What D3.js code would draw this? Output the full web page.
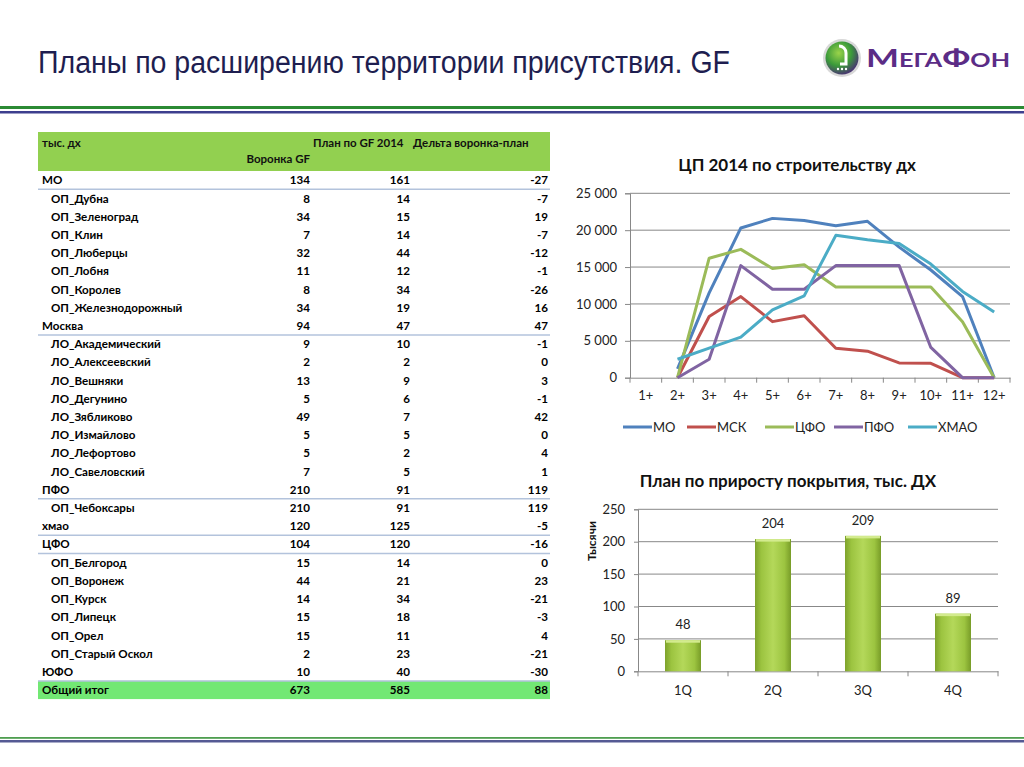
<!DOCTYPE html>
<html>
<head>
<meta charset="utf-8">
<script src="https://cdn.jsdelivr.net/npm/d3@7"></script>
<style>
    body { margin: 0; background: #fff; }
    svg text { font-family: Lato, 'Open Sans', sans-serif; }
</style>
</head>
<body>
<svg id="slide" width="1024" height="767"></svg>
<script>
// table data
const tableLabels = ['МО', 'ОП_Дубна', 'ОП_Зеленоград', 'ОП_Клин', 'ОП_Люберцы', 'ОП_Лобня', 'ОП_Королев',
    'ОП_Железнодорожный', 'Москва', 'ЛО_Академический', 'ЛО_Алексеевский', 'ЛО_Вешняки', 'ЛО_Дегунино',
    'ЛО_Зябликово', 'ЛО_Измайлово', 'ЛО_Лефортово', 'ЛО_Савеловский', 'ПФО', 'ОП_Чебоксары', 'хмао', 'ЦФО',
    'ОП_Белгород', 'ОП_Воронеж', 'ОП_Курск', 'ОП_Липецк', 'ОП_Орел', 'ОП_Старый Оскол', 'ЮФО', 'Общий итог']
const funnelGF = [134, 8, 34, 7, 32, 11, 8, 34, 94, 9, 2, 13, 5, 49, 5, 5, 7, 210, 210, 120, 104, 15, 44, 14, 15, 15, 2, 10, 673]
const planGF2014 = [161, 14, 15, 14, 44, 12, 34, 19, 47, 10, 2, 9, 6, 7, 5, 2, 5, 91, 91, 125, 120, 14, 21, 34, 18, 11, 23, 40, 585]
const deltaPlan = [-27, -7, 19, -7, -12, -1, -26, 16, 47, -1, 0, 3, -1, 42, 0, 4, 1, 119, 119, -5, -16, 0, 23, -21, -3, 4, -21, -30, 88]
const groupLabels = ['МО', 'Москва', 'ПФО', 'хмао', 'ЦФО', 'ЮФО']
const totalLabel = 'Общий итог'
const tableHeaders = ['тыс. дх', 'Воронка GF', 'План по GF 2014', 'Дельта воронка-план']

// line chart data
const lineCategories = ['1+', '2+', '3+', '4+', '5+', '6+', '7+', '8+', '9+', '10+', '11+', '12+']
const moValues = [null, 1200, 11500, 20300, 21600, 21300, 20600, 21200, 17700, 14600, 11000, 0]
const mskValues = [null, 0, 8300, 11000, 7600, 8400, 4000, 3600, 2000, 1950, 0, 0]
const cfoValues = [null, 0, 16200, 17400, 14800, 15300, 12300, 12300, 12300, 12300, 7600, 0]
const pfoValues = [null, 0, 2500, 15200, 12000, 12000, 15200, 15200, 15200, 4100, 0, 0]
const hmaoValues = [null, 2500, 4000, 5500, 9200, 11100, 19300, 18700, 18200, 15400, 11700, 8900]
const seriesNames = ['МО', 'МСК', 'ЦФО', 'ПФО', 'ХМАО']
const seriesColors = ['#4f81bd', '#c0504d', '#9bbb59', '#8064a2', '#4bacc6']
const lineTicks = [0, 5000, 10000, 15000, 20000, 25000]

// bar chart data
const barCategories = ['1Q', '2Q', '3Q', '4Q']
const barValues = [48, 204, 209, 89]
const barTicks = [0, 50, 100, 150, 200, 250]

const svg = d3.select('#slide')
svg.append('rect').attr('width', 1024).attr('height', 767).attr('fill', '#fff')

// title + logo
svg.append('text')
    .attr('x', 38).attr('y', 73)
    .attr('textLength', 692).attr('lengthAdjust', 'spacingAndGlyphs')
    .style('font-family', "'Liberation Sans Narrow', 'Arial Narrow', 'Liberation Sans', sans-serif")
    .style('font-size', '31px')
    .attr('fill', '#1e1e50')
    .text('Планы по расширению территории присутствия. GF')

const defs = svg.append('defs')
const logoGrad = defs.append('radialGradient').attr('id', 'logoGrad').attr('cx', '40%').attr('cy', '35%').attr('r', '70%')
logoGrad.append('stop').attr('offset', '0%').attr('stop-color', '#9ad34a')
logoGrad.append('stop').attr('offset', '55%').attr('stop-color', '#3b9a3a')
logoGrad.append('stop').attr('offset', '100%').attr('stop-color', '#4b2a78')

const logo = svg.append('g').attr('transform', 'translate(842,58)')
logo.append('circle').attr('r', 19).attr('fill', '#d8d8d8')
logo.append('circle').attr('r', 16.5).attr('fill', 'url(#logoGrad)')
logo.append('path')
    .attr('d', 'M-3,-12 A7,7 0 0 1 4,-5 L4,6 L-2,6')
    .attr('fill', 'none').attr('stroke', '#fff').attr('stroke-width', 3)
logo.selectAll('circle.dot').data([-4, 0, 4]).enter().append('circle')
    .attr('class', 'dot').attr('cx', d => d).attr('cy', 11).attr('r', 1.2).attr('fill', '#fff')

svg.append('text')
    .attr('x', 866).attr('y', 67)
    .attr('textLength', 144).attr('lengthAdjust', 'spacingAndGlyphs')
    .style('font-size', '25px').style('font-weight', 'bold').style('font-variant', 'small-caps')
    .attr('fill', '#5b2c86')
    .text('МегаФон')

// decorative rules
svg.append('rect').attr('x', 0).attr('y', 106).attr('width', 1024).attr('height', 3).attr('fill', '#2b8a34')
svg.append('rect').attr('x', 0).attr('y', 111).attr('width', 1024).attr('height', 2.5).attr('fill', '#3d3f8e')
svg.append('rect').attr('x', 0).attr('y', 737).attr('width', 1024).attr('height', 1.8).attr('fill', '#4f9e50')
svg.append('rect').attr('x', 0).attr('y', 740).attr('width', 1024).attr('height', 2.5).attr('fill', '#555a94')

// table
const tableLeft = 38
const tableRight = 550
const colRight = [310, 410, 548]

const table = svg.append('g').attr('id', 'table')
table.append('rect')
    .attr('x', tableLeft).attr('y', 132).attr('width', tableRight - tableLeft).attr('height', 39)
    .attr('fill', '#92d050')

const headerText = (x, y, anchor, t) => table.append('text')
    .attr('x', x).attr('y', y).attr('text-anchor', anchor)
    .style('font-size', '11.5px').style('font-weight', 'bold').attr('fill', '#111')
    .text(t)
headerText(42, 147, 'start', tableHeaders[0])
headerText(colRight[0], 163, 'end', tableHeaders[1])
headerText(313, 147, 'start', tableHeaders[2])
headerText(413, 147, 'start', tableHeaders[3])

const rowY = d3.scaleBand()
    .domain(d3.range(tableLabels.length))
    .range([171, 171 + 18.21 * tableLabels.length])
const rh = rowY.bandwidth()

const totalIdx = tableLabels.indexOf(totalLabel)
table.append('rect')
    .attr('x', tableLeft).attr('y', rowY(totalIdx)).attr('width', tableRight - tableLeft).attr('height', rh)
    .attr('fill', '#72e874')

table.selectAll('line.sep')
    .data(tableLabels.map((d, i) => i).filter(i => groupLabels.includes(tableLabels[i])))
    .enter().append('line')
    .attr('class', 'sep')
    .attr('x1', tableLeft).attr('x2', tableRight)
    .attr('y1', i => rowY(i) + rh).attr('y2', i => rowY(i) + rh)
    .attr('stroke', '#b3c3dc').attr('stroke-width', 1.5)

const rows = table.selectAll('g.row')
    .data(tableLabels.map((d, i) => ({ label: d, i, vals: [funnelGF[i], planGF2014[i], deltaPlan[i]] })))
    .enter().append('g')
    .attr('class', 'row')
    .attr('transform', d => `translate(0,${rowY(d.i) + rh / 2})`)

rows.append('text')
    .attr('x', d => (groupLabels.includes(d.label) || d.label === totalLabel) ? 42 : 51)
    .attr('dy', '0.36em')
    .style('font-size', '11.6px').style('font-weight', 'bold').attr('fill', '#000')
    .text(d => d.label)

rows.selectAll('text.num')
    .data(d => d.vals)
    .enter().append('text')
    .attr('class', 'num')
    .attr('x', (d, j) => colRight[j])
    .attr('dy', '0.36em')
    .attr('text-anchor', 'end')
    .style('font-size', '11.6px').style('font-weight', 'bold').attr('fill', '#000')
    .text(d => d)

// line chart
const lc = svg.append('g').attr('id', 'line-chart')
const x = d3.scaleBand().domain(lineCategories).range([630, 1010])
const y = d3.scaleLinear().domain([0, 25000]).range([377.7, 193.3])
const ruFmt = d3.formatLocale({ decimal: ',', thousands: '\u00a0', grouping: [3], currency: ['', ''] }).format(',d')

lc.append('text')
    .attr('x', 797).attr('y', 171).attr('text-anchor', 'middle')
    .style('font-size', '17px').style('font-weight', 'bold').attr('fill', '#111')
    .text('ЦП 2014 по строительству дх')

const yAxisL = lc.append('g')
    .attr('transform', 'translate(630,0)')
    .call(d3.axisLeft(y).tickValues(lineTicks).tickSize(5).tickPadding(8).tickFormat(ruFmt))
yAxisL.select('.domain').attr('stroke', '#888')
yAxisL.selectAll('.tick line').attr('stroke', '#888')
yAxisL.selectAll('.tick text').style('font-size', '13px').style('font-family', 'Lato, sans-serif').attr('fill', '#222')

lc.append('g').selectAll('line')
    .data(lineTicks.filter(d => d > 0))
    .enter().append('line')
    .attr('x1', 630).attr('x2', 1010)
    .attr('y1', d => y(d)).attr('y2', d => y(d))
    .attr('stroke', '#888').attr('stroke-width', 1)

const xAxisL = lc.append('g')
    .attr('transform', `translate(0,${y(0)})`)
    .call(d3.axisBottom(x).tickSize(0).tickPadding(13))
xAxisL.select('.domain').attr('stroke', '#888')
xAxisL.selectAll('.tick text').style('font-size', '13px').style('font-family', 'Lato, sans-serif').attr('fill', '#222')
lc.append('g').selectAll('line')
    .data(lineCategories.map(c => x(c)).concat([x.range()[1]]))
    .enter().append('line')
    .attr('x1', d => d).attr('x2', d => d)
    .attr('y1', y(0)).attr('y2', y(0) + 5)
    .attr('stroke', '#888')

const seriesValues = [moValues, mskValues, cfoValues, pfoValues, hmaoValues]
const line = d3.line()
    .defined(d => d.v !== null)
    .x(d => x(d.c) + x.bandwidth() / 2)
    .y(d => y(d.v))

lc.append('g').selectAll('path')
    .data(seriesValues.map((vals, k) => ({ k, pts: vals.map((v, i) => ({ c: lineCategories[i], v })) })))
    .enter().append('path')
    .attr('d', d => line(d.pts))
    .attr('fill', 'none')
    .attr('stroke', d => seriesColors[d.k])
    .attr('stroke-width', 3)
    .attr('stroke-linejoin', 'round')

const legendX = [623, 687, 765, 834, 908]
const legend = lc.append('g').selectAll('g')
    .data(seriesNames)
    .enter().append('g')
    .attr('transform', (d, i) => `translate(${legendX[i]},427)`)
legend.append('line')
    .attr('x1', 0).attr('x2', 29)
    .attr('stroke', (d, i) => seriesColors[i]).attr('stroke-width', 3)
legend.append('text')
    .attr('x', 30).attr('dy', '0.36em')
    .style('font-size', '13px').attr('fill', '#222')
    .text(d => d)

// bar chart
const bc = svg.append('g').attr('id', 'bar-chart')
const xb = d3.scaleBand().domain(barCategories).range([638, 998]).paddingInner(0.6).paddingOuter(0.3)
const yb = d3.scaleLinear().domain([0, 250]).range([671.3, 509.3])

bc.append('text')
    .attr('x', 788).attr('y', 487).attr('text-anchor', 'middle')
    .style('font-size', '17px').style('font-weight', 'bold').attr('fill', '#111')
    .text('План по приросту покрытия, тыс. ДХ')

bc.append('text')
    .attr('transform', 'translate(596,541) rotate(-90)')
    .attr('text-anchor', 'middle')
    .style('font-size', '12px').style('font-weight', 'bold').attr('fill', '#111')
    .text('Тысячи')

const yAxisB = bc.append('g')
    .attr('transform', 'translate(638,0)')
    .call(d3.axisLeft(yb).tickValues(barTicks).tickSize(4).tickPadding(9))
yAxisB.select('.domain').attr('stroke', '#888')
yAxisB.selectAll('.tick line').attr('stroke', '#888')
yAxisB.selectAll('.tick text').style('font-size', '13px').style('font-family', 'Lato, sans-serif').attr('fill', '#222')

bc.append('g').selectAll('line')
    .data(barTicks.filter(d => d > 0))
    .enter().append('line')
    .attr('x1', 638).attr('x2', 998)
    .attr('y1', d => yb(d)).attr('y2', d => yb(d))
    .attr('stroke', '#888')

const xAxisB = bc.append('g')
    .attr('transform', `translate(0,${yb(0)})`)
    .call(d3.axisBottom(xb).tickSize(0).tickPadding(14))
xAxisB.select('.domain').attr('stroke', '#888')
xAxisB.selectAll('.tick text').style('font-size', '13px').style('font-family', 'Lato, sans-serif').attr('fill', '#222')
bc.append('g').selectAll('line')
    .data(d3.range(barCategories.length + 1).map(i => 638 + i * xb.step()))
    .enter().append('line')
    .attr('x1', d => d).attr('x2', d => d)
    .attr('y1', yb(0)).attr('y2', yb(0) + 5)
    .attr('stroke', '#888')

const barGrad = defs.append('linearGradient').attr('id', 'barGrad').attr('x1', '0%').attr('x2', '100%')
barGrad.append('stop').attr('offset', '0%').attr('stop-color', '#7ea22c')
barGrad.append('stop').attr('offset', '18%').attr('stop-color', '#9cc440')
barGrad.append('stop').attr('offset', '50%').attr('stop-color', '#b4d85a')
barGrad.append('stop').attr('offset', '82%').attr('stop-color', '#9cc440')
barGrad.append('stop').attr('offset', '100%').attr('stop-color', '#789c28')

const bars = bc.append('g').selectAll('g')
    .data(barCategories.map((c, i) => ({ c, v: barValues[i] })))
    .enter().append('g')
bars.append('rect')
    .attr('x', d => xb(d.c)).attr('y', d => yb(d.v))
    .attr('width', xb.bandwidth()).attr('height', d => yb(0) - yb(d.v))
    .attr('fill', 'url(#barGrad)')
bars.append('rect')
    .attr('x', d => xb(d.c) + 1).attr('y', d => yb(d.v))
    .attr('width', xb.bandwidth() - 2).attr('height', 2.5)
    .attr('fill', '#d3eb8e')
bars.append('text')
    .attr('x', d => xb(d.c) + xb.bandwidth() / 2)
    .attr('y', d => yb(d.v) - 11)
    .attr('text-anchor', 'middle')
    .style('font-size', '13px').attr('fill', '#222')
    .text(d => d.v)
</script>
</body>
</html>
